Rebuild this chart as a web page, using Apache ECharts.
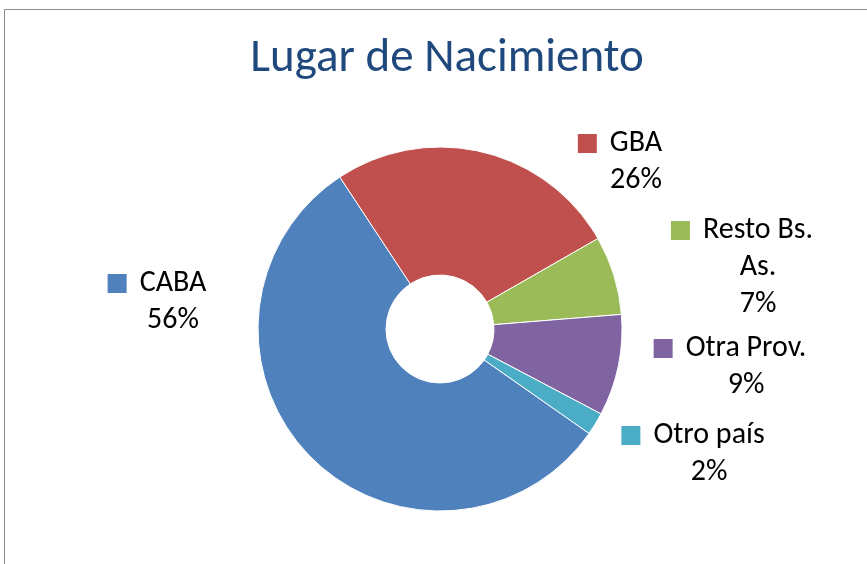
<!DOCTYPE html>
<html>
<head>
<meta charset="utf-8">
<script src="https://cdn.jsdelivr.net/npm/echarts@6/dist/echarts.min.js"></script>
<style>
  html, body { margin: 0; padding: 0; background: #fff; }
  #chart { width: 867px; height: 564px; }
</style>
</head>
<body>
<div id="chart"></div>
<script>
// datos
const categories = ['CABA', 'GBA', 'Resto Bs. As.', 'Otra Prov.', 'Otro país']
const values = [56, 26, 7, 9, 2]
const colors = ['#4F81BD', '#C0504D', '#9BBB59', '#8064A2', '#4BACC6']

// label anchors (center x of name, top y of first line)
const labelPos = [[173, 265], [636, 125], [758, 212], [746, 330], [709, 417]]

const font = 'Carlito, Lato, sans-serif'
const lineH = 37
const sq = 19
const gap = 13

function wrapName(name) {
  if (name.length <= 10) return name
  const i = name.lastIndexOf(' ')
  return name.slice(0, i) + '\n' + name.slice(i + 1)
}

const chart = echarts.init(document.getElementById('chart'))

const rich = {
  n: { fontSize: 30, fontFamily: font, color: '#000', lineHeight: lineH },
  gap: { width: gap, height: sq },
  sp: { width: sq + gap, height: sq }
}
colors.forEach((c, i) => {
  rich['sq' + i] = { width: sq, height: sq, backgroundColor: c }
})

chart.setOption({
  animation: false,
  title: {
    text: 'Lugar de Nacimiento',
    left: 442,
    textAlign: 'center',
    top: 31,
    textStyle: { fontSize: 47, fontWeight: 'normal', color: '#1F497D', fontFamily: font }
  },
  graphic: [{
    type: 'rect',
    shape: { x: 4.5, y: 9.5, width: 900, height: 600 },
    style: { fill: 'none', stroke: '#8c8c8c', lineWidth: 1 },
    silent: true
  }],
  series: [{
    type: 'pie',
    center: [440, 329],
    radius: [54, 182],
    startAngle: -35,
    clockwise: true,
    data: categories.map((name, i) => ({ name, value: values[i], itemStyle: { color: colors[i] } })),
    itemStyle: { borderColor: '#fff', borderWidth: 1 },
    labelLine: { show: false },
    label: {
      show: true,
      position: 'outside',
      align: 'center',
      formatter: p => {
        const lines = wrapName(p.name).split('\n')
        let s = '{sq' + p.dataIndex + '|}{gap|}{n|' + lines[0] + '}{sp|}'
        for (let k = 1; k < lines.length; k++) s += '\n{n|' + lines[k] + '}'
        return s + '\n{n|' + Math.round(p.percent) + '%}'
      },
      rich
    },
    labelLayout: p => ({
      x: labelPos[p.dataIndex][0],
      y: labelPos[p.dataIndex][1],
      align: 'center',
      verticalAlign: 'top'
    })
  }]
})
</script>
</body>
</html>
